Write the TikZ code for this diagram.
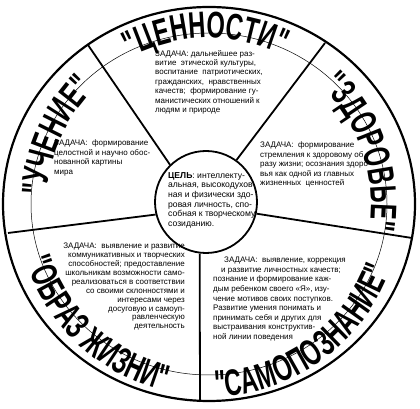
\documentclass[tikz,border=0pt]{standalone}
\usepackage{fontspec}
\setmainfont{Liberation Sans}
\newfontfamily\lblfont[FakeStretch=0.64]{Liberation Sans}
\usetikzlibrary{decorations.text}
\begin{document}
\begin{tikzpicture}[x=1pt,y=1pt,
  task/.style={font=\fontsize{8}{9.4}\selectfont, inner sep=0pt},
  spoke/.style={line width=1.8pt},
  lbl/.style={decorate, decoration={text along path, text align=center,
     text={|\lblfont\bfseries\fontsize{37}{37}\selectfont|#1}}}
]
\useasboundingbox (0,0) rectangle (420,409);
\coordinate (O) at (209,205);
\draw[line width=2.2pt] (O) ellipse[x radius=206, y radius=197];
\draw[line width=0.5pt] (O) ellipse[x radius=178, y radius=171];
\node[circle, draw, line width=1.8pt, minimum size=102pt, inner sep=0pt] (cel) at (206,207) {};
\coordinate (o1) at (88,364);
\coordinate (o2) at (325,366);
\coordinate (o3) at (412,171);
\coordinate (o4) at (200,7);
\coordinate (o5) at (8,176);
\draw[spoke] (cel.134) -- (o1);
\draw[spoke] (cel.54) -- (o2);
\draw[spoke] (cel.-13.5) -- (o3);
\draw[spoke] (cel.-97) -- (o4);
\draw[spoke] (cel.194) -- (o5);
\begin{scope}[shift={(209,205)}]
\path[lbl={"ЦЕННОСТИ"}] (126:166) arc[start angle=126, end angle=56, radius=166];
\path[lbl={"ЗДОРОВЬЕ"}] (50:162) arc[start angle=50, end angle=-13, radius=162];
\path[lbl={"УЧЕНИЕ"}] (181:162) arc[start angle=181, end angle=131, radius=162];
\path[lbl={"САМОПОЗНАНИЕ"}] (-94:193) arc[start angle=-94, end angle=-14, radius=193];
\path[lbl={"ОБРАЗ ЖИЗНИ"}] (192:192) arc[start angle=192, end angle=262, radius=192];
\end{scope}
\node[task, align=left, anchor=north west] (t1) at (155,359)
 {ЗАДАЧА: дальнейшее раз-\\витие~ этической культуры,\\воспитание~ патриотических,\\гражданских,~ нравственных\\качеств;~ формирование гу-\\манистических отношений к\\людям и природе};
\node[task, align=left, anchor=north west] (t2) at (54,269)
 {ЗАДАЧА:~ формирование\\целостной и научно обос-\\нованной картины\\мира};
\node[task, align=left, anchor=north west] (t3) at (260,267)
 {ЗАДАЧА:~ формирование\\стремления к здоровому об\\разу жизни; осознания здоро-\\вья как одной из главных\\жизненных~ ценностей};
\node[inner sep=0pt, align=left, anchor=north west, font=\fontsize{8.6}{9.7}\selectfont] (celtext) at (168,237)
 {\textbf{ЦЕЛЬ}: интеллекту-\\альная, высокодухов-\\ная и физически здо-\\ровая личность, спо-\\собная к творческому\\созиданию.};
\node[task, align=right, anchor=north east, font=\fontsize{8}{8.9}\selectfont] (t5) at (185,166)
 {ЗАДАЧА:~ выявление и развитие\\коммуникативных и творческих\\способностей; предоставление\\школьникам возможности само-\\реализоваться в соответствии\\со своими склонностями и\\интересами через\\досуговую и самоуп-\\равленческую\\деятельность};
\node[task, align=left, anchor=north west, font=\fontsize{8}{9.6}\selectfont] (t6) at (213,152)
 {\hspace*{11pt}ЗАДАЧА:~ выявление, коррекция\\\hspace*{8pt}и развитие личностных качеств;\\познание и формирование каж-\\дым ребенком своего «Я», изу-\\чение мотивов своих поступков.\\Развитие умения понимать и\\принимать себя и других для\\выстраивания конструктив-\\ной линии поведения};
\end{tikzpicture}
\end{document}
